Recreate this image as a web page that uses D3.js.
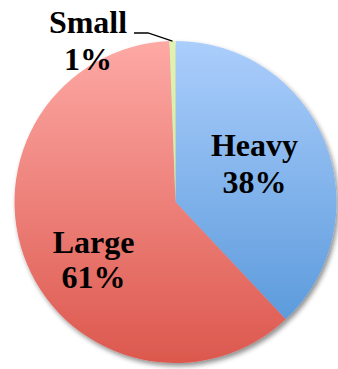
<!DOCTYPE html>
<html><head><meta charset="utf-8">
<script src="https://d3js.org/d3.v7.min.js"></script>
<style>body{margin:0;background:#fff}svg{display:block}</style>
</head><body>
<script>
const categories = ["Heavy", "Large", "Small"];
const values = [38.0, 61.4, 0.6];
const labels = ["38%", "61%", "1%"];

const W = 338, H = 369, cx = 175.5, cy = 202, R = 161;
const svg = d3.select("body").append("svg").attr("width", W).attr("height", H);
const defs = svg.append("defs");
const grads = [
  ["gHeavy", "#abcefc", "#5093d7"],
  ["gLarge", "#fea9a5", "#dc584e"],
  ["gSmall", "#e2f3b0", "#c6e08a"]
];
grads.forEach(([id, a, b]) => {
  const g = defs.append("linearGradient").attr("id", id).attr("gradientUnits", "userSpaceOnUse")
    .attr("x1", 0).attr("y1", -R).attr("x2", 0).attr("y2", R);
  g.append("stop").attr("offset", 0).attr("stop-color", a);
  g.append("stop").attr("offset", 1).attr("stop-color", b);
});
const f = defs.append("filter").attr("id", "sh").attr("x", "-10%").attr("y", "-10%").attr("width", "130%").attr("height", "130%");
f.append("feGaussianBlur").attr("in", "SourceAlpha").attr("stdDeviation", 2.5).attr("result", "b");
f.append("feOffset").attr("in", "b").attr("dx", 2).attr("dy", 3).attr("result", "o");
f.append("feComponentTransfer").attr("in", "o").attr("result", "o2")
  .append("feFuncA").attr("type", "linear").attr("slope", 0.45);
const m = f.append("feMerge");
m.append("feMergeNode").attr("in", "o2");
m.append("feMergeNode").attr("in", "SourceGraphic");

const pie = d3.pie().sort(null).value(d => d)(values);
const arc = d3.arc().innerRadius(0).outerRadius(R);
const g = svg.append("g").attr("transform", `translate(${cx},${cy})`).attr("filter", "url(#sh)");
g.selectAll("path").data(pie).join("path")
  .attr("d", arc).attr("fill", (d, i) => `url(#${grads[i][0]})`);

const font = "'Liberation Serif', serif";
const labelPos = [[254.5, 156, 193], [93.5, 253, 288], [88, 33, 70]];
categories.forEach((c, i) => {
  const [x, y1, y2] = labelPos[i];
  const t = svg.append("text").attr("text-anchor", "middle").attr("font-family", font)
    .attr("font-weight", "bold").attr("font-size", 32).attr("fill", "#000");
  t.append("tspan").attr("x", x).attr("y", y1).text(c);
  t.append("tspan").attr("x", x).attr("y", y2).text(labels[i]);
});
// leader line for Small
const sm = pie[2];
const mid = (sm.startAngle + sm.endAngle) / 2;
const ex = cx + Math.sin(mid) * R, ey = cy - Math.cos(mid) * R;
svg.append("path").attr("d", `M134,33 L148,33 L${ex},${ey}`)
  .attr("fill", "none").attr("stroke", "#000").attr("stroke-width", 1.3);
</script>
</body></html>
